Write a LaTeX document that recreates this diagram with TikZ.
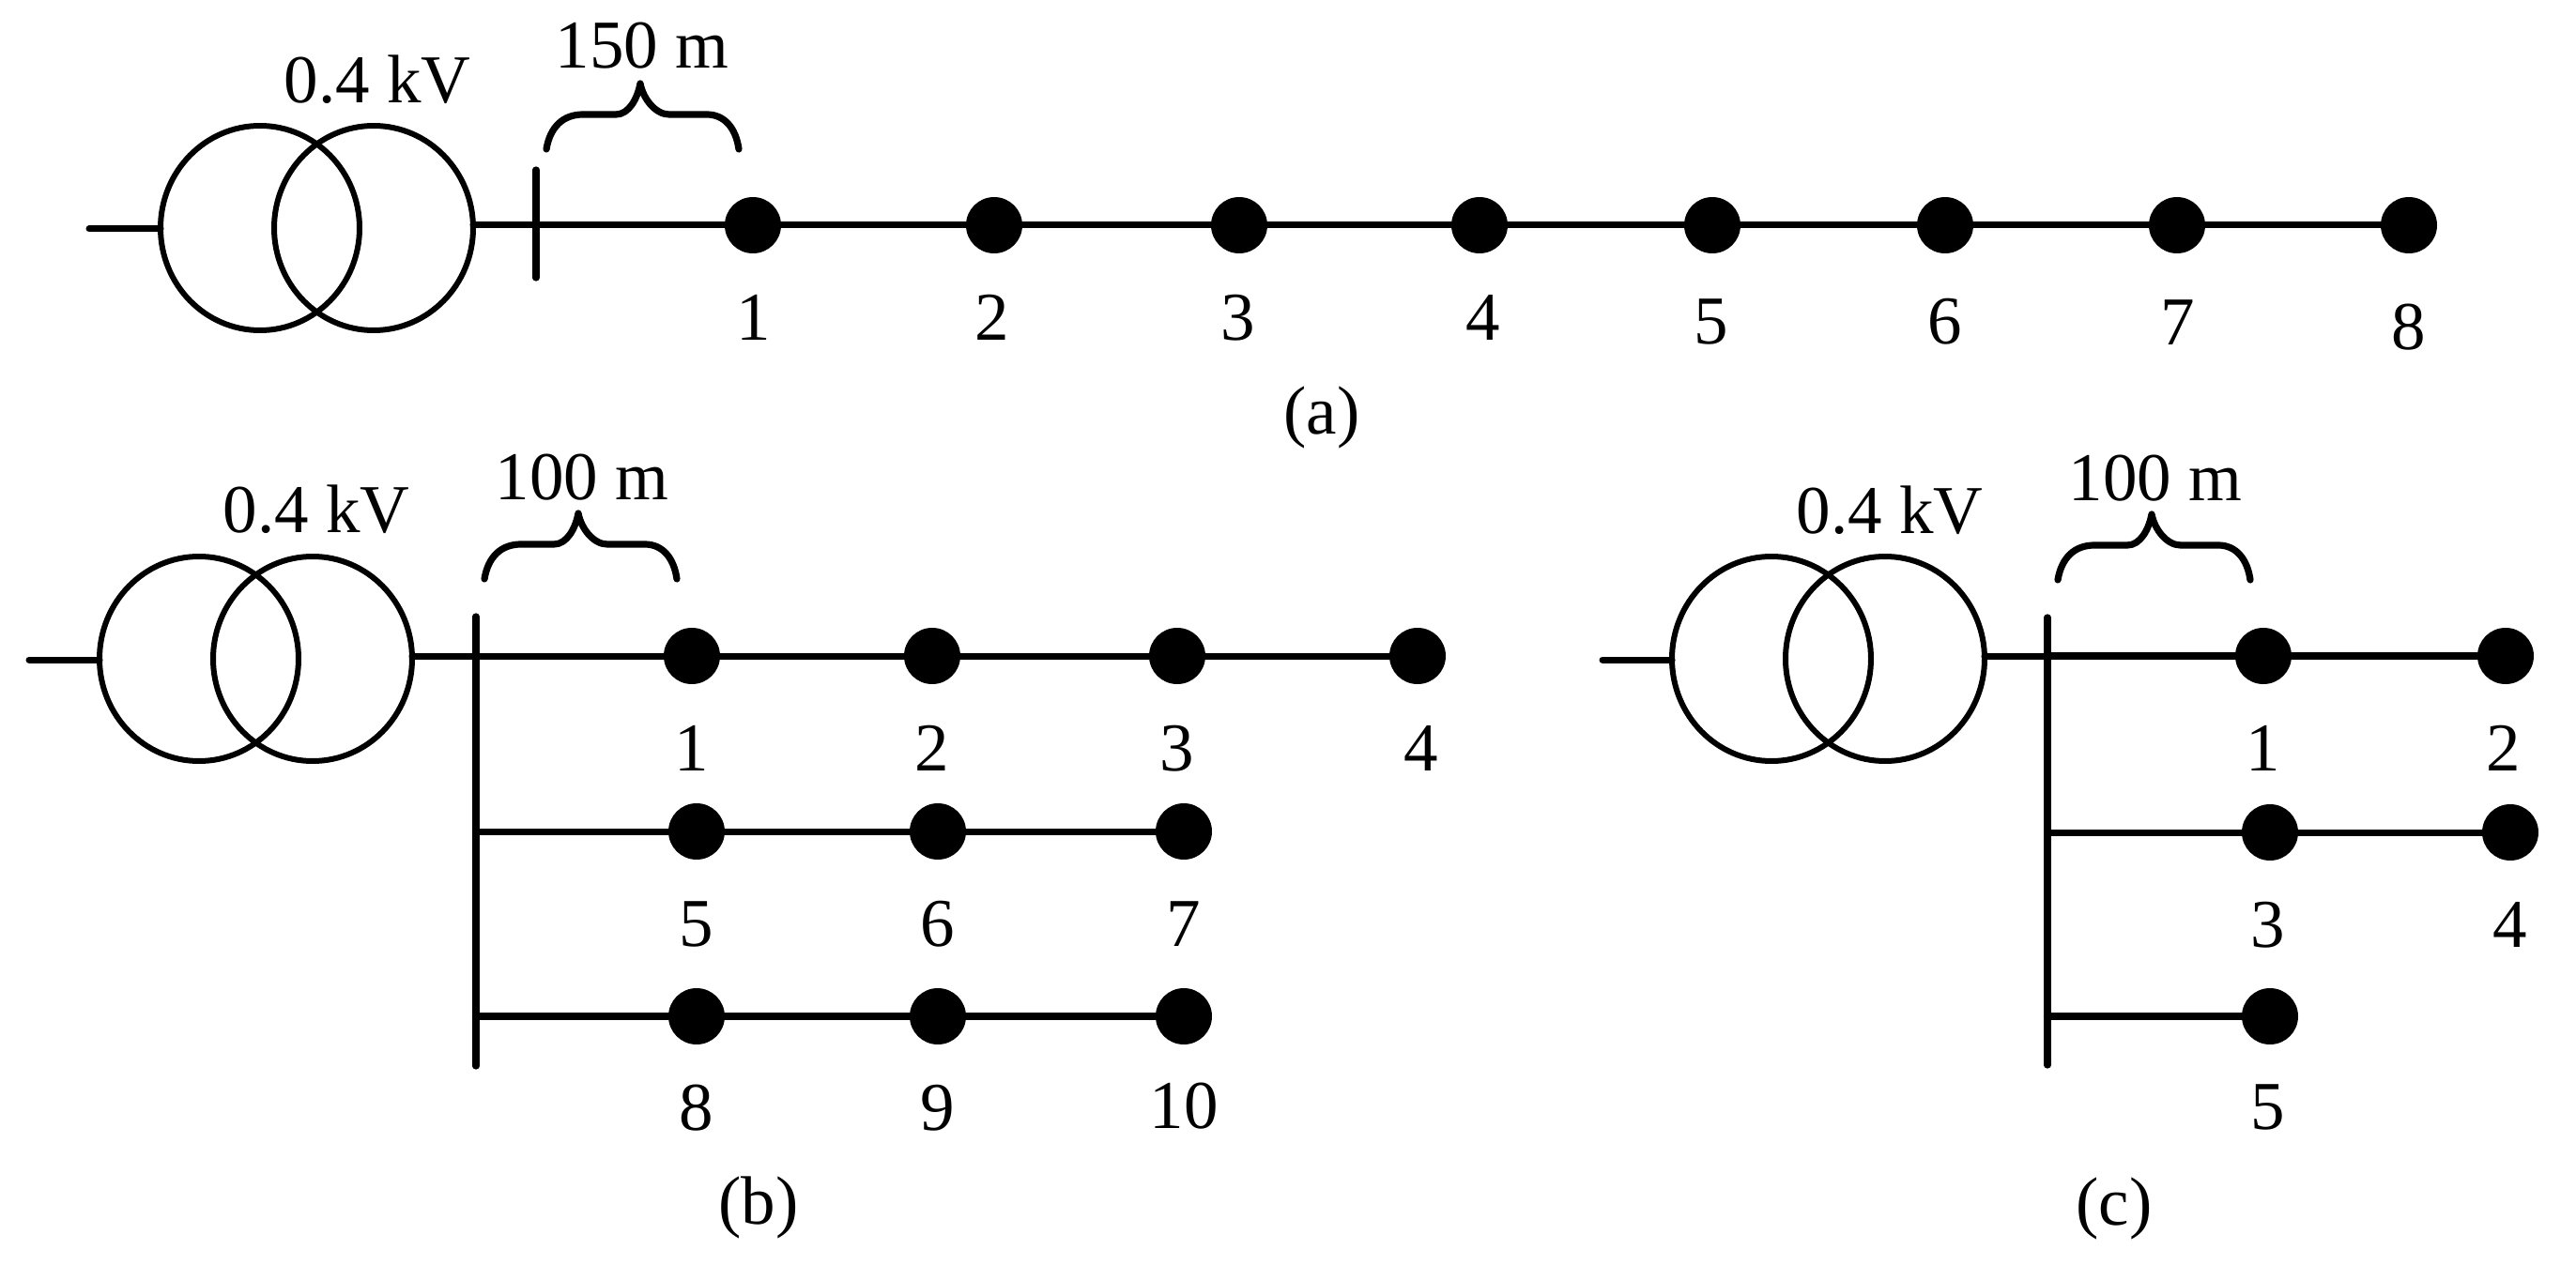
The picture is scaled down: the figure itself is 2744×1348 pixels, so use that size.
\documentclass[tikz,border=0pt]{standalone}
\usepackage{fontspec}
\usetikzlibrary{shapes.geometric}
\setmainfont{Liberation Serif}
\tikzset{
  wire/.style={line width=1.75pt,line cap=round,black},
  heavywire/.style={line width=2.1pt,line cap=round,black},
  bar/.style={line width=1.8pt,line cap=round,black},
  winding/.style={ellipse,draw=black,line width=1.5pt,minimum width=53pt,minimum height=54.5pt,inner sep=0pt,outer sep=0pt},
  dot/.style={circle,fill=black,minimum size=15pt,inner sep=0pt,outer sep=0pt},
  txt/.style={anchor=base,inner sep=0pt,outer sep=0pt,font=\fontsize{18.25pt}{20pt}\selectfont,text=black},
  pics/curlybrace/.style={code={
    \draw[line width=1.8pt,line cap=round,line join=round,black]
      (-100,72) .. controls (-96,48) and (-82,35) .. (-61,35)
      -- (-26,35) .. controls (-12,35) and (-3,18) .. (0,2)
      .. controls (3,18) and (16,35) .. (31,35)
      -- (71,35) .. controls (90,35) and (102,50) .. (105,72);
  }}
}
\begin{document}
\begin{tikzpicture}[x=0.25pt,y=-0.25pt]
\useasboundingbox (0,0) rectangle (2744,1348);

% ---------- (a)
\node[winding] (aT1) at (277,243) {};
\node[winding] (aT2) at (398,243) {};
\coordinate (aIn) at (95,244);
\coordinate (aBusT) at (571,181);
\coordinate (aBusB) at (571,296);
\foreach \n/\x in {1/802,2/1059,3/1320,4/1576,5/1824,6/2072,7/2319,8/2566}
  \node[dot] (a\n) at (\x,240) {};
\draw[wire] (aIn) -- (aT1.west |- aIn);
\draw[bar] (aBusT) -- (aBusB);
\draw[wire] (aT2.east |- a1) -- (a1);
\foreach \p/\q in {1/2,2/3,3/4,4/5,5/6,6/7,7/8} \draw[wire] (a\p) -- (a\q);
\foreach \n/\x/\y in {1/803/363,2/1057/363,3/1319/363,4/1580/363,5/1823/367,6/2072/367,7/2320/368,8/2566/372}
  \node[txt] (la\n) at (\x,\y) {\n};
\node[txt] (aV) at (402,110) {0.4 kV};
\node[txt] (aL) at (684,73) {150 m};
\pic at (682,87) {curlybrace};
\node[txt] (aCap) at (1408,463) {(a)};

% ---------- (b)
\node[winding] (bT1) at (212,702) {};
\node[winding] (bT2) at (333,702) {};
\coordinate (bIn) at (31,703);
\coordinate (bBusT) at (507,657);
\coordinate (bBusB) at (507,1136);
\foreach \n/\x in {1/737,2/993,3/1254,4/1510} \node[dot] (b\n) at (\x,699) {};
\foreach \n/\x in {5/742,6/999,7/1261} \node[dot] (b\n) at (\x,886) {};
\foreach \n/\x in {8/742,9/999,10/1261} \node[dot] (b\n) at (\x,1083) {};
\draw[wire] (bIn) -- (bT1.west |- bIn);
\draw[bar] (bBusT) -- (bBusB);
\draw[wire] (bT2.east |- b1) -- (b1);
\foreach \p/\q in {1/2,2/3,3/4} \draw[wire] (b\p) -- (b\q);
\draw[wire] (bBusT |- b5) -- (b5);
\foreach \p/\q in {5/6,6/7} \draw[wire] (b\p) -- (b\q);
\draw[heavywire] (bBusT |- b8) -- (b8);
\foreach \p/\q in {8/9,9/10} \draw[heavywire] (b\p) -- (b\q);
\foreach \n/\x/\y in {1/737/821,2/993/821,3/1254/821,4/1514/821,5/742/1008,6/999/1008,7/1261/1008,8/742/1204,9/999/1204,10/1261/1202}
  \node[txt] (lb\n) at (\x,\y) {\n};
\node[txt] (bV) at (337,568) {0.4 kV};
\node[txt] (bL) at (620,532) {100 m};
\pic at (616,545) {curlybrace};
\node[txt] (bCap) at (808,1304) {(b)};

% ---------- (c)
\node[winding] (cT1) at (1887,702) {};
\node[winding] (cT2) at (2008,702) {};
\coordinate (cIn) at (1707,703);
\coordinate (cBusT) at (2181,658);
\coordinate (cBusB) at (2181,1135);
\foreach \n/\x in {1/2411,2/2669} \node[dot] (c\n) at (\x,699) {};
\foreach \n/\x in {3/2418,4/2674} \node[dot] (c\n) at (\x,887) {};
\node[dot] (c5) at (2418,1083) {};
\draw[wire] (cIn) -- (cT1.west |- cIn);
\draw[bar] (cBusT) -- (cBusB);
\draw[wire] (cT2.east |- c1) -- (cBusT |- c1);
\draw[heavywire] (cBusT |- c1) -- (c1);
\draw[heavywire] (c1) -- (c2);
\draw[wire] (cBusT |- c3) -- (c3);
\draw[wire] (c3) -- (c4);
\draw[heavywire] (cBusT |- c5) -- (c5);
\foreach \n/\x/\y in {1/2411/821,2/2667/821,3/2416/1009,4/2674/1009,5/2416/1203}
  \node[txt] (lc\n) at (\x,\y) {\n};
\node[txt] (cV) at (2013,569) {0.4 kV};
\node[txt] (cL) at (2296,533) {100 m};
\pic at (2292,546) {curlybrace};
\node[txt] (cCap) at (2252,1305) {(c)};
\end{tikzpicture}
\end{document}
